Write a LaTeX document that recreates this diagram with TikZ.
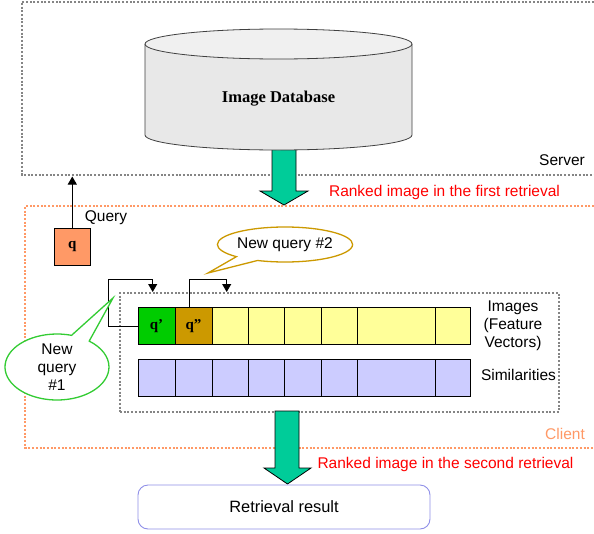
\documentclass[tikz,border=0pt]{standalone}
\usepackage{fontspec}
\setmainfont{Liberation Sans}
\newfontfamily\serifb{Liberation Serif}
\usetikzlibrary{shapes.geometric,shapes.callouts,arrows.meta}

\definecolor{srvgray}{HTML}{858585}
\definecolor{cliorange}{HTML}{FF9966}
\definecolor{bigteal}{HTML}{00CC99}
\definecolor{qorange}{HTML}{FF9966}
\definecolor{qgreen}{HTML}{00CC00}
\definecolor{qgold}{HTML}{CC9900}
\definecolor{cellyellow}{HTML}{FFFF99}
\definecolor{cellblue}{HTML}{CCCCFF}
\definecolor{calloutgreen}{HTML}{33CC33}
\definecolor{calloutgold}{HTML}{CC9900}
\definecolor{resultblue}{HTML}{8F8FE8}
\definecolor{dbside}{HTML}{E8E8E8}
\definecolor{dbtop}{HTML}{F0F0F0}
\definecolor{dbline}{HTML}{404040}

\begin{document}
\begin{tikzpicture}[x=1pt,y=-1pt,
  dotline/.style={line width=2pt, dash pattern=on 2pt off 1.7pt},
  lbl/.style={inner sep=0pt, font=\fontsize{15.5}{18}\selectfont},
  cellbox/.style={draw=black, line width=0.9pt, minimum width=#1, minimum height=37pt, inner sep=0pt, outer sep=0pt},
  qlabel/.style={font=\serifb\bfseries\fontsize{15}{18}\selectfont},
  conn/.style={line width=0.9pt, -{Triangle[length=8pt,width=9pt]}},
  bigarrow/.style={fill=bigteal, draw=black, line width=0.8pt, line join=miter},
  bubble/.style={ellipse callout, fill=white, line width=1.3pt, inner sep=0pt, align=center, font=\fontsize{15.5}{18}\selectfont, callout pointer arc=22},
]
\useasboundingbox (0,0) rectangle (594,533);
\fill[white] (0,0) rectangle (594,533);

% server and client regions (open to the right)
\draw[dotline, srvgray] (594,1.5) -- (22,1.5) -- (22,175) -- (594,175);
\coordinate (sb) at (22,176.5);
\draw[dotline, cliorange] (594,206) -- (25,206) -- (25,447.5) -- (594,447.5);

% feature-vector area
\node[draw=srvgray, dotline, minimum width=439pt, minimum height=118.5pt, inner sep=0pt] (feat) at (339.5,352.25) {};

% big transfer arrows
\draw[bigarrow] (272,146) -- (272,191) -- (260,191) -- (284,205) -- (308,191) -- (296,191) -- (296,146) -- cycle;
\draw[bigarrow] (275,411) -- (275,468) -- (264,468) -- (287.5,484) -- (311,468) -- (299,468) -- (299,411) -- cycle;

% database cylinder
\fill[dbside] (145,44) -- (145,135) arc[start angle=180, end angle=0, x radius=133.5, y radius=15] -- (412,44) -- cycle;
\draw[dbline, line width=0.8pt] (145,44) -- (145,135) arc[start angle=180, end angle=0, x radius=133.5, y radius=15] -- (412,44);
\draw[dbline, line width=0.8pt, fill=dbtop] (278.5,44) ellipse[x radius=133.5, y radius=15];
\node[font=\serifb\bfseries\fontsize{16.5}{20}\selectfont, inner sep=0pt, anchor=base] (dblabel) at (278.5,102.5) {Image Database};

% labels
\node[lbl, anchor=base] (server) at (562,165.5) {Server};
\node[lbl, anchor=base, text=red] (rank1) at (444.5,196) {Ranked image in the first retrieval};
\node[lbl, anchor=base, text=cliorange] (client) at (565,439) {Client};
\node[lbl, anchor=base, text=red] (rank2) at (445.5,468) {Ranked image in the second retrieval};
\node[lbl, anchor=base] (querylbl) at (106,221) {Query};

% query box
\node[draw=black, line width=0.9pt, fill=qorange, minimum width=36.5pt, minimum height=37pt, inner sep=0pt, qlabel] (q) at (72.3,246.5) {q};
\draw[conn] (q.north) -- (q.north |- sb);

% image row
\node[cellbox=37pt, fill=qgreen, qlabel] (im1) at (156.5,326) {q’};
\node[cellbox=37pt, fill=qgold, qlabel] (im2) at (193.5,326) {q”};
\foreach \a/\b [count=\i from 3] in {212/248,248/284.5,284.5/321.5,321.5/357.5,357.5/435,435/470.5}
  \node[cellbox={(\b-\a)*1pt}, fill=cellyellow] (im\i) at ({(\a+\b)/2},326) {};

% similarity row
\foreach \a/\b [count=\i] in {138/175,175/212,212/248,248/284.5,284.5/321.5,321.5/357.5,357.5/435,435/470.5}
  \node[cellbox={(\b-\a)*1pt}, fill=cellblue] (sim\i) at ({(\a+\b)/2},377.7) {};

\node[lbl, align=center] (imglbl) at (513,325.3) {Images\\(Feature\\Vectors)};
\node[lbl, anchor=base] (simlbl) at (518.5,380.7) {Similarities};

% feedback connectors
\coordinate (h1) at (108.3,279);
\coordinate (t1) at (152.7,292);
\draw[conn] (im1.west) -| (h1) -| (t1);
\coordinate (h2) at (226.7,279);
\coordinate (t2) at (226.7,292);
\draw[conn] ([xshift=-4pt]im2.north) |- (h2) -- (t2);

% speech bubbles
\node[bubble, draw=calloutgreen, minimum width=104pt, minimum height=66pt, callout absolute pointer={(113,298)}] (nq1) at (57,367) {New\\query\\\#1};
\node[bubble, draw=calloutgold, minimum width=116pt, minimum height=35pt, callout absolute pointer={(208,273)}] (nq2) at (285,244.5) {New query \#2};

% result
\node[draw=resultblue, line width=0.9pt, rounded corners=10pt, fill=white, minimum width=292pt, minimum height=44pt, font=\fontsize{16.4}{20}\selectfont] (res) at (284,507) {Retrieval result};
\end{tikzpicture}
\end{document}
